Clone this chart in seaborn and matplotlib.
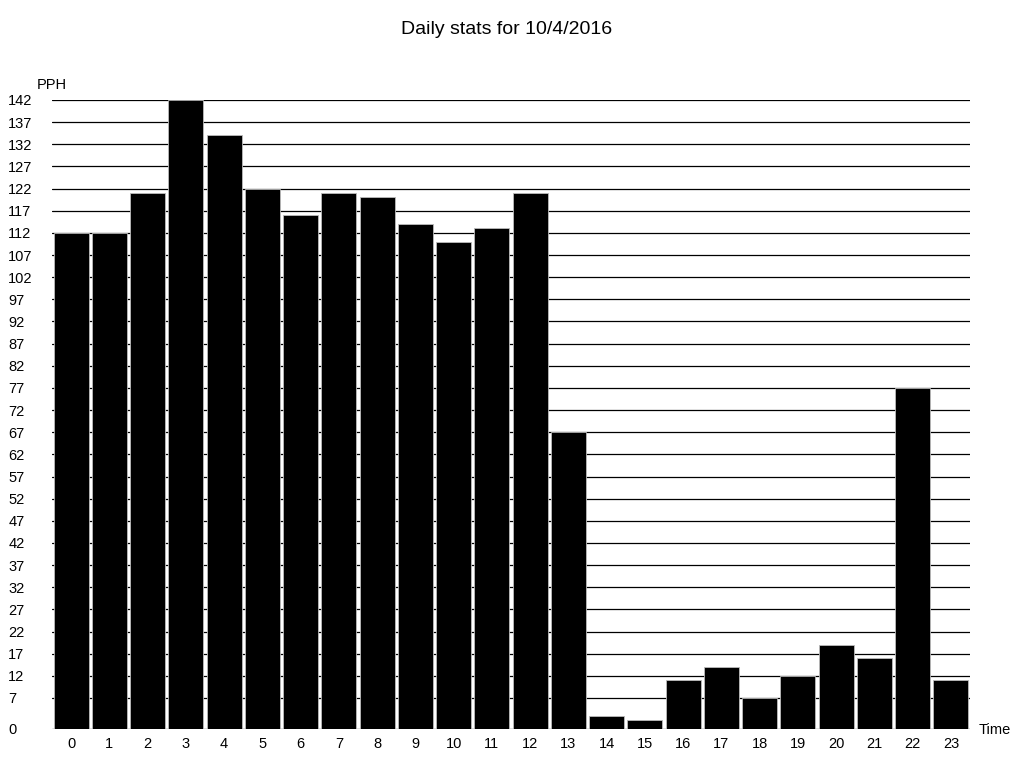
import pandas as pd
import seaborn as sns
import matplotlib.pyplot as plt

# data
hours = list(range(24))
pph = [112, 112, 121, 142, 134, 122, 116, 121, 120, 114, 110, 113,
       121, 67, 3, 2, 11, 14, 7, 12, 19, 16, 77, 11]
y_ticks = [0] + list(range(7, 143, 5))

df = pd.DataFrame({"hour": hours, "pph": pph})

sns.set_style("white")
plt.rcParams['font.family'] = ['Liberation Sans', 'DejaVu Sans']
plt.rcParams['text.color'] = 'black'
plt.rcParams['xtick.color'] = 'black'
plt.rcParams['ytick.color'] = 'black'

fig = plt.figure(figsize=(10.24, 7.68), dpi=100)
ax = fig.add_axes([52 / 1024, 39 / 768, 918 / 1024, 629 / 768])

for t in y_ticks:
    ax.axhline(t, color='black', lw=0.9, zorder=0)

sns.barplot(data=df, x="hour", y="pph", color="black", saturation=1,
            width=0.92, ax=ax, zorder=2, edgecolor="#bbbbbb", linewidth=0.6)

ax.set_xlim(-0.5, 23.5)
ax.set_ylim(0, 142)
ax.set_yticks(y_ticks)
ax.set_yticklabels([str(t) for t in y_ticks], ha='left')
ax.tick_params(axis='y', length=0, pad=31.5, labelsize=10.5)
ax.tick_params(axis='x', length=0, pad=6, labelsize=10.5)
for s in ax.spines.values():
    s.set_visible(False)
ax.set_xlabel("")
ax.set_ylabel("")

fig.text(37 / 1024, 1 - 85 / 768, "PPH", fontsize=10.5, va='center', ha='left')
fig.text(979 / 1024, 1 - 730 / 768, "Time", fontsize=10.5, va='center', ha='left')
fig.text(0.495, 1 - 30 / 768, "Daily stats for 10/4/2016", fontsize=14,
         ha='center', va='center')

plt.savefig("out.png", dpi=100)
